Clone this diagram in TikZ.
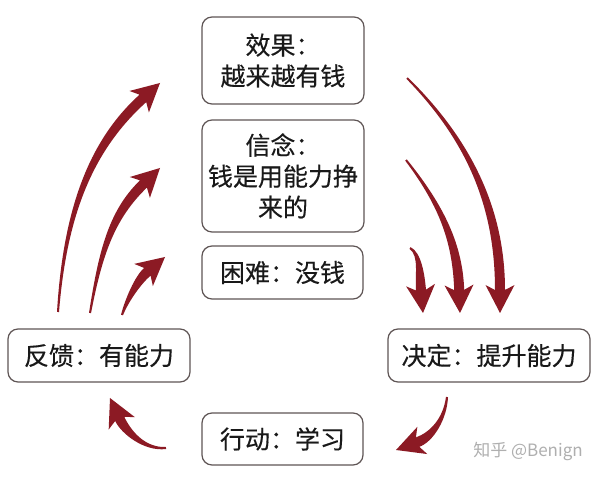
\documentclass[tikz,border=0pt]{standalone}
\usepackage{fontspec}
\setmainfont[FakeBold=0.3]{Noto Sans CJK SC}
\newfontfamily\wmfont{Noto Sans CJK SC}
\usetikzlibrary{calc}
\definecolor{arrowred}{RGB}{140,26,36}
\definecolor{boxgray}{RGB}{95,85,85}
\definecolor{txt}{RGB}{25,25,25}
\definecolor{wm}{RGB}{175,175,175}
\newcommand\hlen{23}
\newcommand\notchd{5}
\newcommand\hw{14.5}
\newcommand\sw{5}
% #1 tail, #2 tail angle, #3 tip, #4 head direction, #5 tail ctrl dist, #6 head ctrl dist
\newcommand\tarrow[6]{%
  \pgfmathsetmacro\aL{#4+90}%
  \pgfmathsetmacro\aR{#4-90}%
  \pgfmathsetmacro\aB{#4+180}%
  \pgfmathsetmacro\tL{#2+90}%
  \pgfmathsetmacro\tR{#2-90}%
  \pgfmathsetmacro\hk{\hlen+\notchd}%
  \coordinate (hb) at ($(#3)+(\aB:\hlen)$);
  \coordinate (hk) at ($(#3)+(\aB:\hk)$);
  \fill[arrowred] ($(#1)+(\tL:1)$)
    .. controls ($(#1)+(#2:#5)+(\tL:2)$) and ($(hb)+(\aB:#6)+(\aL:\sw)$) .. ($(hb)+(\aL:\sw)$)
    -- ($(hk)+(\aL:\hw)$) -- (#3) -- ($(hk)+(\aR:\hw)$) -- ($(hb)+(\aR:\sw)$)
    .. controls ($(hb)+(\aB:#6)+(\aR:\sw)$) and ($(#1)+(#2:#5)+(\tR:2)$) .. ($(#1)+(\tR:1)$)
    -- cycle;
}
\begin{document}
\begin{tikzpicture}[x=1pt,y=1pt,
  box/.style={draw=boxgray,line width=1.2pt,rounded corners=10pt,fill=white,
    inner sep=0pt,align=center,text=txt,font=\fontsize{25}{31}\selectfont}]
\useasboundingbox (0,0) rectangle (600,477);
\fill[white] (0,0) rectangle (600,477);
% boxes
\node[box,minimum width=162pt,minimum height=87pt] (eff) at (283,416.5) {效果：\\越来越有钱};
\node[box,minimum width=162pt,minimum height=112pt] (bel) at (283,301) {信念：\\钱是用能力挣\\来的};
\node[box,minimum width=161pt,minimum height=53pt] (dif) at (282.5,204.5) {困难：没钱};
\node[box,minimum width=161pt,minimum height=52pt] (act) at (282.5,38) {行动：学习};
\node[box,minimum width=182pt,minimum height=53pt] (fb) at (99,121.5) {反馈：有能力};
\node[box,minimum width=202pt,minimum height=53pt] (dec) at (489,121.5) {决定：提升能力};
% arrow end points
\coordinate (L1s) at (58,165);  \coordinate (L1t) at (160,394);
\coordinate (L2s) at (90,164);  \coordinate (L2t) at (160,309);
\coordinate (L3s) at (122,162); \coordinate (L3t) at (165,220);
\coordinate (R1s) at (407,399); \coordinate (R1t) at (500,164);
\coordinate (R2s) at (406,317); \coordinate (R2t) at (460,164);
\coordinate (R3s) at (410,229); \coordinate (R3t) at (423,164);
\coordinate (B1s) at (447,80);  \coordinate (B1t) at (396,27);
\coordinate (B2s) at (166,29);  \coordinate (B2t) at (110,79);
% arrows
\tarrow{L1s}{86}{L1t}{42}{100}{70}
\tarrow{L2s}{80}{L2t}{44}{60}{45}
\tarrow{L3s}{72}{L3t}{40}{15}{12}
\tarrow{R1s}{-45}{R1t}{-90}{90}{80}
\tarrow{R2s}{-52}{R2t}{-88}{60}{45}
\tarrow{R3s}{-30}{R3t}{-85}{12}{15}
\tarrow{B1s}{-95}{B1t}{-160}{22}{15}
\tarrow{B2s}{185}{B2t}{115}{22}{14}
% watermark
\node[text=wm,font=\wmfont\fontsize{17}{17}\selectfont,anchor=center] (wmk) at (528,26) {知乎 @Benign};
\end{tikzpicture}
\end{document}
